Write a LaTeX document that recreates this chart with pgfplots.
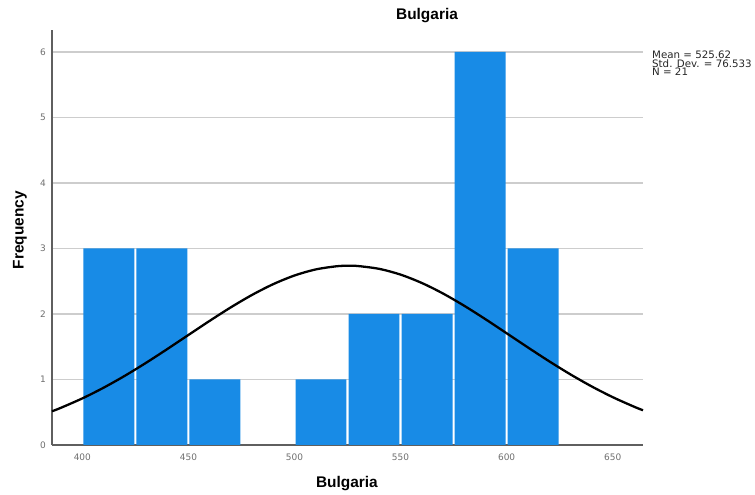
\documentclass[border=0pt]{standalone}
\usepackage{fontspec}
\setmainfont{Liberation Sans}
\newfontfamily\smallsans{DejaVu Sans}
\usepackage{pgfplots}
\pgfplotsset{compat=1.18}

\definecolor{barblue}{RGB}{24,139,230}
\definecolor{gridgray}{RGB}{205,205,205}
\definecolor{axisgray}{RGB}{95,95,95}
\definecolor{ticktext}{RGB}{110,110,110}

% Bin centres and counts (bin width 25; the 475--500 bin is empty)
\pgfplotstableread{
x      y
412.5  3
437.5  3
462.5  1
512.5  1
537.5  2
562.5  2
587.5  6
612.5  3
}\bins

\begin{document}
\begin{tikzpicture}[x=1bp,y=1bp]
\useasboundingbox (0,0) rectangle (755,495);
\begin{axis}[
  at={(52bp,50bp)}, anchor=south west,
  scale only axis, width=591bp, height=415bp,
  xmin=385.7, xmax=664.3, ymin=0, ymax=6.336,
  axis x line*=bottom, axis y line*=left,
  axis line style={axisgray, line width=1.1pt, -},
  xtick={400,450,...,650}, ytick={0,1,...,6},
  major tick length=0pt,
  ymajorgrids, grid style={gridgray, line width=1.1pt},
  /pgf/number format/assume math mode=true,
  tick label style={font=\smallsans\fontsize{9}{9}\selectfont, text=ticktext},
  xticklabel style={anchor=center, yshift=-12bp},
  yticklabel style={anchor=center, xshift=-9bp},
  title={Bulgaria},
  title style={font=\bfseries\fontsize{15.5}{15.5}\selectfont,
    at={(axis description cs:0.6345,1.012)}, anchor=base},
  xlabel={Bulgaria},
  xlabel style={font=\bfseries\fontsize{15.5}{15.5}\selectfont,
    at={(axis description cs:0.499,-0.1036)}, anchor=base},
  ylabel={Frequency},
  ylabel style={font=\bfseries\fontsize{15.5}{15.5}\selectfont,
    at={(axis description cs:-0.0482,0.518)}, anchor=base},
  clip=false,
]
\addplot[ybar, bar width=24, bar shift=0pt, fill=barblue, draw=none]
  table[x=x, y=y] {\bins};

% Fitted normal curve: mean 525.62, sd 76.533, scaled by N x bin width
\addplot[black, line width=2.3pt, smooth] coordinates {
  (385.7,0.5145) (390,0.5693) (400,0.7115) (410,0.8743) (420,1.0560)
  (430,1.2539) (440,1.4638) (450,1.6798) (460,1.8948) (470,2.1016)
  (480,2.2913) (490,2.4558) (500,2.5876) (510,2.6803) (520,2.7293)
  (525.62,2.7367) (530,2.7322) (540,2.6888) (550,2.6013) (560,2.4740)
  (570,2.3132) (580,2.1261) (590,1.9211) (600,1.7067) (610,1.4903)
  (620,1.2794) (630,1.0797) (640,0.8959) (650,0.7306) (660,0.5858)
  (664.3,0.5299)
};
\end{axis}
\node[anchor=north west, inner sep=0pt, align=left,
  font=\smallsans\fontsize{10.3}{8.8}\selectfont, text=black!85]
  at (652,444.5) {Mean = 525.62\\Std. Dev. = 76.533\\N = 21};
\end{tikzpicture}
\end{document}
